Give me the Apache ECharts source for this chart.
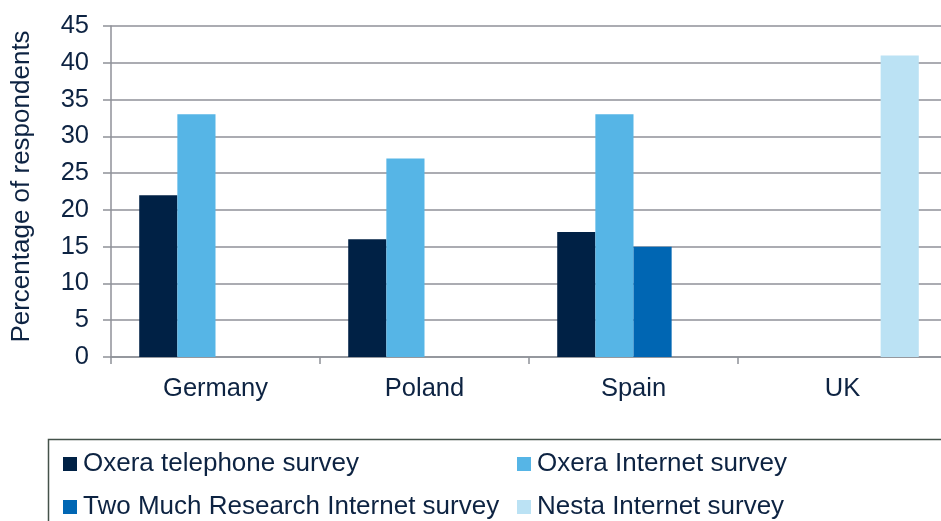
<!DOCTYPE html>
<html>
<head>
<meta charset="utf-8">
<script src="https://cdn.jsdelivr.net/npm/echarts@6/dist/echarts.min.js"></script>
<style>
html,body{margin:0;padding:0;background:#fff;}
#chart{width:941px;height:521px;}
</style>
</head>
<body>
<div id="chart"></div>
<script>
const categories = ['Germany', 'Poland', 'Spain', 'UK'];
const seriesNames = ['Oxera telephone survey', 'Oxera Internet survey', 'Two Much Research Internet survey', 'Nesta Internet survey'];
const oxeraTelephone = [22, 16, 17, null];
const oxeraInternet = [33, 27, 33, null];
const twoMuchResearch = [null, null, 15, null];
const nestaInternet = [null, null, null, 41];
const yTicks = [0, 5, 10, 15, 20, 25, 30, 35, 40, 45];
const yTitle = 'Percentage of respondents';

const colors = ['#002145', '#56b5e6', '#0066b3', '#bbe2f4'];
const textColor = '#0d2342';
const gridColor = '#8f9198';
const font = "'Liberation Sans', Arial, sans-serif";

const chart = echarts.init(document.getElementById('chart'));
const values = [oxeraTelephone, oxeraInternet, twoMuchResearch, nestaInternet];

const legendPos = [
  {left: 63, top: 451},
  {left: 517, top: 451},
  {left: 63, top: 494},
  {left: 517, top: 494}
];

chart.setOption({
  animation: false,
  backgroundColor: '#fff',
  grid: {left: 111, top: 26, right: -6, bottom: 164, containLabel: false, outerBoundsMode: 'none'},
  xAxis: {
    type: 'category',
    data: categories,
    axisLine: {show: true, lineStyle: {color: gridColor, width: 1.5}},
    axisTick: {show: true, length: 7, lineStyle: {color: gridColor, width: 1.5}},
    axisLabel: {color: textColor, fontSize: 25.5, fontFamily: font, margin: 19}
  },
  yAxis: {
    type: 'value',
    min: yTicks[0],
    max: yTicks[yTicks.length - 1],
    interval: 5,
    axisLine: {show: true, lineStyle: {color: gridColor, width: 1.5}},
    axisTick: {show: true, length: 8, lineStyle: {color: gridColor, width: 1.5}},
    axisLabel: {color: textColor, fontSize: 25.5, fontFamily: font, margin: 22},
    splitLine: {show: true, lineStyle: {color: gridColor, width: 1.5}}
  },
  legend: seriesNames.map((n, i) => ({
    data: [n],
    left: legendPos[i].left,
    top: legendPos[i].top,
    itemWidth: 14,
    itemHeight: 14,
    icon: 'rect',
    padding: 0,
    textStyle: {color: textColor, fontSize: 26, fontFamily: font, padding: [0, 0, 0, 1]}
  })),
  graphic: [{
    type: 'rect',
    shape: {x: 48.5, y: 439.5, width: 920, height: 120},
    style: {fill: 'none', stroke: '#44524a', lineWidth: 1.5},
    silent: true
  }, {
    type: 'text',
    x: 22,
    y: 186.5,
    rotation: Math.PI / 2,
    style: {text: yTitle, fill: textColor, fontSize: 26, fontFamily: font, align: 'center', verticalAlign: 'middle'},
    silent: true
  }],
  series: seriesNames.map((n, i) => ({
    name: n,
    type: 'bar',
    data: values[i],
    barGap: '0%',
    barCategoryGap: '27%',
    itemStyle: {color: colors[i]}
  }))
});
</script>
</body>
</html>
